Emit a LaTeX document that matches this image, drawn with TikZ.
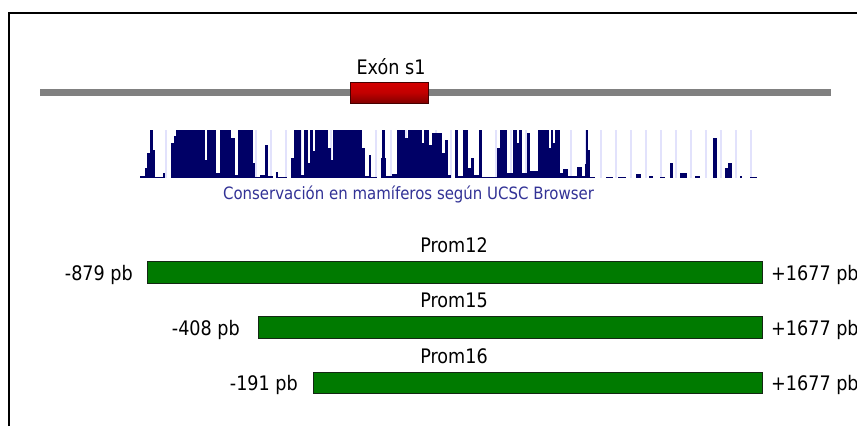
\documentclass[tikz,border=0pt]{standalone}
\usepackage{fontspec}
\setmainfont{DejaVu Sans}[FakeStretch=0.88]
\definecolor{chromgray}{RGB}{128,128,128}
\definecolor{exonlight}{RGB}{214,0,0}
\definecolor{exondark}{RGB}{130,0,0}
\definecolor{exonedge}{RGB}{70,0,0}
\definecolor{consnavy}{RGB}{0,0,102}
\definecolor{conslabel}{RGB}{50,50,150}
\definecolor{gridlav}{RGB}{226,226,252}
\definecolor{promgreen}{RGB}{0,122,0}
\definecolor{promedge}{RGB}{20,40,20}
\tikzset{
  frameline/.style={line width=1.4pt, black},
  chrom/.style={fill=chromgray},
  exonbox/.style={draw=exonedge, line width=1pt, top color=exonlight, bottom color=exondark,
    middle color=exonlight!90!black, minimum width=78pt, minimum height=21pt, inner sep=0pt},
  prombar/.style={draw=promedge, line width=0.8pt, fill=promgreen, minimum height=22pt,
    inner sep=0pt, anchor=north west},
  lbl/.style={inner sep=0pt, font=\fontsize{20}{24}\selectfont, text=black},
  conslbl/.style={inner sep=0pt, font=\fontsize{17}{20}\selectfont, text=conslabel},
  gridline/.style={draw=gridlav, line width=1.3pt},
  bar/.style={fill=consnavy}
}
\begin{document}
\begin{tikzpicture}[x=1pt,y=-1pt]
\useasboundingbox (0,0) rectangle (857,426);
\fill[white] (0,0) rectangle (857,426);
% panel frame, left and top edges
\draw[frameline] (9,426) -- (9,13) -- (857,13);
% chromosome line with the exon on top
\fill[chrom] (40,89) rectangle (831,96);
\node[exonbox] (exon) at (389,92.5) {};
\node[lbl, anchor=base] (exonlbl) at (391,74) {Exón s1};
% conservation track: grid lines behind the histogram
\foreach \k in {0,...,40} {
  \draw[gridline] ({151+15*\k},130) -- ({151+15*\k},178);
}
\foreach \a/\b/\h in {
  140/145/2, 145/147/10, 147/150/25, 150/153/48, 153/155/28, 155/163/1, 163/165/5,
  171/174/35, 174/176/42, 176/205/48, 205/206.5/18, 206.5/216/48, 216/219.5/5,
  219.5/231/48, 231/234.5/40, 234.5/238/3, 238/253/48, 253/255/15, 255/260/1,
  260/265/3, 265/267.5/33, 267.5/273/2, 276/277.5/6, 277.5/287/1, 291/294/20,
  294/301/48, 301/304/3, 304/308/48, 308/310/15, 310/313/48, 313/315/27,
  315/328/48, 328/331/30, 331/333/18, 333/362/48, 362/365/30, 365/369/2,
  369/371/23, 371/377/1, 381/382/20, 382/385/48, 385/386/20, 386/392/2,
  392/397/4, 397/405/48, 405/408/40, 408/422/48, 422/424/35, 424/429/48,
  429/432/33, 432/442/45, 442/445/25, 445/448/38, 448/451/3, 455/458/48,
  458/463/2, 463/468/48, 468/471/10, 471/474/20, 474/479/3, 479/482/48,
  482/497/1, 497/500/30, 500/507/48, 507/513/5, 513/517/48, 517/519/35,
  519/522/48, 522/527/5, 527/530/45, 530/538/7, 538/549/48, 549/551/30,
  551/553/48, 553/555/35, 555/560/48, 560/563/5, 563/568/9, 568/577/2,
  577/582/11, 582/585/2, 585/586/14, 586/588/48, 588/590/28, 590/595/1,
  606/613/1, 618/626/1, 636/641/4, 649/653/2, 660/665/1, 670/673/15,
  680/687/5, 695/700/2, 713/717/40, 725/728/10, 728/732/15, 740/742/2,
  750/757/1} {
  \fill[bar] (\a,178) rectangle (\b,178-\h);
}
\node[conslbl, anchor=base] (conslbl) at (408.5,199) {Conservación en mamíferos según UCSC Browser};
% promoter constructs
\node[lbl, anchor=base] (t12) at (454,252) {Prom12};
\node[prombar, minimum width=615pt] (p12) at (147,261) {};
\node[lbl, anchor=base east] (s12) at (133,280) {-879 pb};
\node[lbl, anchor=base west] (e12) at (771,280) {+1677 pb};
\node[lbl, anchor=base] (t15) at (454,307) {Prom15};
\node[prombar, minimum width=504pt] (p15) at (258,316) {};
\node[lbl, anchor=base east] (s15) at (240,335) {-408 pb};
\node[lbl, anchor=base west] (e15) at (771,335) {+1677 pb};
\node[lbl, anchor=base] (t16) at (454,363) {Prom16};
\node[prombar, minimum width=449pt, minimum height=21pt] (p16) at (313,372) {};
\node[lbl, anchor=base east] (s16) at (298,390) {-191 pb};
\node[lbl, anchor=base west] (e16) at (771,390) {+1677 pb};
\end{tikzpicture}
\end{document}
